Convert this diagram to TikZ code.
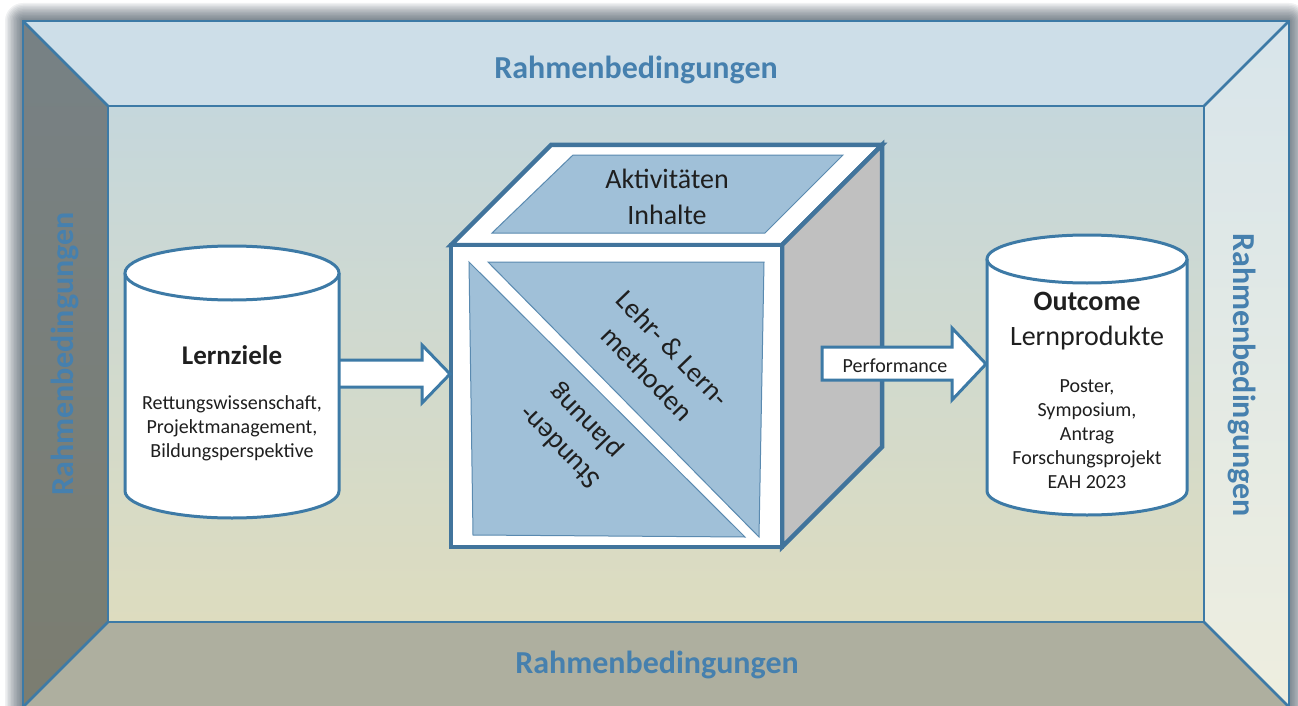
\documentclass[tikz,border=0pt]{standalone}
\usepackage{fontspec}
\setmainfont{Carlito}
\usetikzlibrary{calc}

\definecolor{frameline}{HTML}{3D7AA6}
\definecolor{framelabel}{HTML}{4680AE}
\definecolor{topwall}{HTML}{CDDEE8}
\definecolor{leftwallA}{HTML}{778185}
\definecolor{leftwallB}{HTML}{7B7D70}
\definecolor{rightwallA}{HTML}{D8E5EB}
\definecolor{rightwallB}{HTML}{EEEEDF}
\definecolor{floorwall}{HTML}{AEAF9F}
\definecolor{backA}{HTML}{C5D7DC}
\definecolor{backB}{HTML}{DDDCBF}
\definecolor{shadowc}{HTML}{2E3E4C}
\definecolor{cubeline}{HTML}{41749C}
\definecolor{panel}{HTML}{A0C0D8}
\definecolor{panelline}{HTML}{5A8AB0}
\definecolor{sidegray}{HTML}{C0C0C0}
\definecolor{ink}{HTML}{1F1F1F}

\tikzset{
  wall/.style={draw=frameline, line width=2.5pt, line join=miter},
  walltext/.style={text=framelabel, font=\bfseries\fontsize{32}{38}\selectfont, inner sep=0pt},
  cubeedge/.style={draw=cubeline, line width=4.5pt, line join=miter},
  panelface/.style={fill=panel, draw=panelline, line width=1pt, line join=miter},
  drumline/.style={draw=frameline, line width=3pt},
  blockarrow/.style={fill=white, draw=frameline, line width=3pt, line join=miter},
  bigtext/.style={text=ink, font=\fontsize{28}{36}\selectfont, align=center, inner sep=0pt},
  smalltext/.style={text=ink, font=\fontsize{20}{24}\selectfont, align=center, inner sep=0pt},
}

% cylinder: centre x, top ellipse y, bottom ellipse y, x radius, y radius
\newcommand{\cylbody}[5]{%
  \fill[white] (#1-#4,#2) -- (#1-#4,#3)
    arc[start angle=180, end angle=360, x radius=#4, y radius=#5] -- (#1+#4,#2) -- cycle;
  \draw[drumline] (#1-#4,#2) -- (#1-#4,#3)
    arc[start angle=180, end angle=360, x radius=#4, y radius=#5] -- (#1+#4,#2);
  \draw[drumline, fill=white] (#1,#2) ellipse [x radius=#4, y radius=#5];
}

\begin{document}
\begin{tikzpicture}[x=1pt, y=1pt]
\useasboundingbox (0,0) rectangle (1298,-706);
\fill[white] (0,0) rectangle (1298,-706);

% soft shadow around the room
\foreach \k [evaluate=\k as \d using (13-\k)*1.5] in {1,...,12}{
  \fill[shadowc, opacity=0.07, rounded corners=\d pt]
    (23-\d,-21+\d) rectangle (1289+\d,-707-\d);
}

% room corners
\coordinate (otl) at (23,-21);
\coordinate (otr) at (1289,-21);
\coordinate (obr) at (1289,-707);
\coordinate (obl) at (23,-707);
\coordinate (itl) at (108,-106);
\coordinate (itr) at (1204,-106);
\coordinate (ibr) at (1204,-622);
\coordinate (ibl) at (108,-622);

% walls
\fill[top color=backA, bottom color=backB] (itl) rectangle (ibr);
\fill[topwall] (otl) -- (otr) -- (itr) -- (itl) -- cycle;
\fill[top color=leftwallA, bottom color=leftwallB] (otl) -- (itl) -- (ibl) -- (obl) -- cycle;
\fill[top color=rightwallA, bottom color=rightwallB] (otr) -- (obr) -- (ibr) -- (itr) -- cycle;
\fill[floorwall] (ibl) -- (ibr) -- (obr) -- (obl) -- cycle;
\draw[wall] (otl) rectangle (obr);
\draw[wall] (itl) rectangle (ibr);
\draw[wall] (otl) -- (itl) (otr) -- (itr) (obr) -- (ibr) (obl) -- (ibl);

% wall labels
\node[walltext, anchor=base] (rtop) at (636,-79) {Rahmenbedingungen};
\node[walltext, anchor=base] (rbot) at (657,-673) {Rahmenbedingungen};
\node[walltext, anchor=base, rotate=90] (rleft) at (73,-354) {Rahmenbedingungen};
\node[walltext, anchor=base, rotate=-90] (rright) at (1233,-375) {Rahmenbedingungen};

% cube
\draw[cubeedge, fill=white] (451,-245) -- (551,-145) -- (882,-145) -- (782,-245) -- cycle;
\draw[cubeedge, fill=sidegray] (782,-245) -- (882,-145) -- (882,-447) -- (782,-547) -- cycle;
\draw[cubeedge, fill=white] (451,-245) rectangle (782,-547);
\draw[panelface] (492,-233) -- (573,-155) -- (843,-155) -- (765,-233) -- cycle;
\draw[panelface] (488,-262) -- (764,-262) -- (759,-537) -- cycle;
\draw[panelface] (469,-262) -- (473,-535) -- (745,-537) -- cycle;

\node[bigtext] (akt) at (667,-197) {Aktivitäten\\Inhalte};
\node[bigtext, rotate=-46] (lehr) at (660,-361) {Lehr- \& Lern-\\methoden};
\node[bigtext, rotate=134] (std) at (573,-434) {Stunden-\\planung};

% connection points
\coordinate (lzE) at (335,-374);
\coordinate (cubeW) at (450,-374);
\coordinate (cubeE) at (822,-364);
\coordinate (ocW) at (986,-364);

% block arrows
\draw[blockarrow] ($(lzE)+(0,14)$) -- ($(cubeW)+(-28,14)$) -- ($(cubeW)+(-28,29)$)
  -- (cubeW) -- ($(cubeW)+(-28,-29)$) -- ($(cubeW)+(-28,-13)$) -- ($(lzE)+(0,-13)$) -- cycle;
\draw[blockarrow] ($(cubeE)+(0,17)$) -- ($(ocW)+(-34,17)$) -- ($(ocW)+(-34,36)$)
  -- (ocW) -- ($(ocW)+(-34,-36)$) -- ($(ocW)+(-34,-16)$) -- ($(cubeE)+(0,-16)$) -- cycle;
\node[smalltext, anchor=base] (perf) at (895,-372) {Performance};

% learning goals
\cylbody{232}{-273}{-491}{107}{27}
\node[bigtext, font=\bfseries\fontsize{27}{34}\selectfont, anchor=base] (lz) at (232,-364) {Lernziele};
\node[smalltext] (lzlist) at (232,-428)
  {Rettungswissenschaft,\\Projektmanagement,\\Bildungsperspektive};

% outcome
\cylbody{1087}{-259}{-491}{100}{24}
\node[bigtext, font=\bfseries\fontsize{28}{34}\selectfont, anchor=base] (oc) at (1087,-310) {Outcome};
\node[bigtext, anchor=base] (lp) at (1087,-345) {Lernprodukte};
\node[smalltext] (oclist) at (1087,-434)
  {Poster,\\Symposium,\\Antrag\\Forschungsprojekt\\EAH 2023};
\end{tikzpicture}
\end{document}
